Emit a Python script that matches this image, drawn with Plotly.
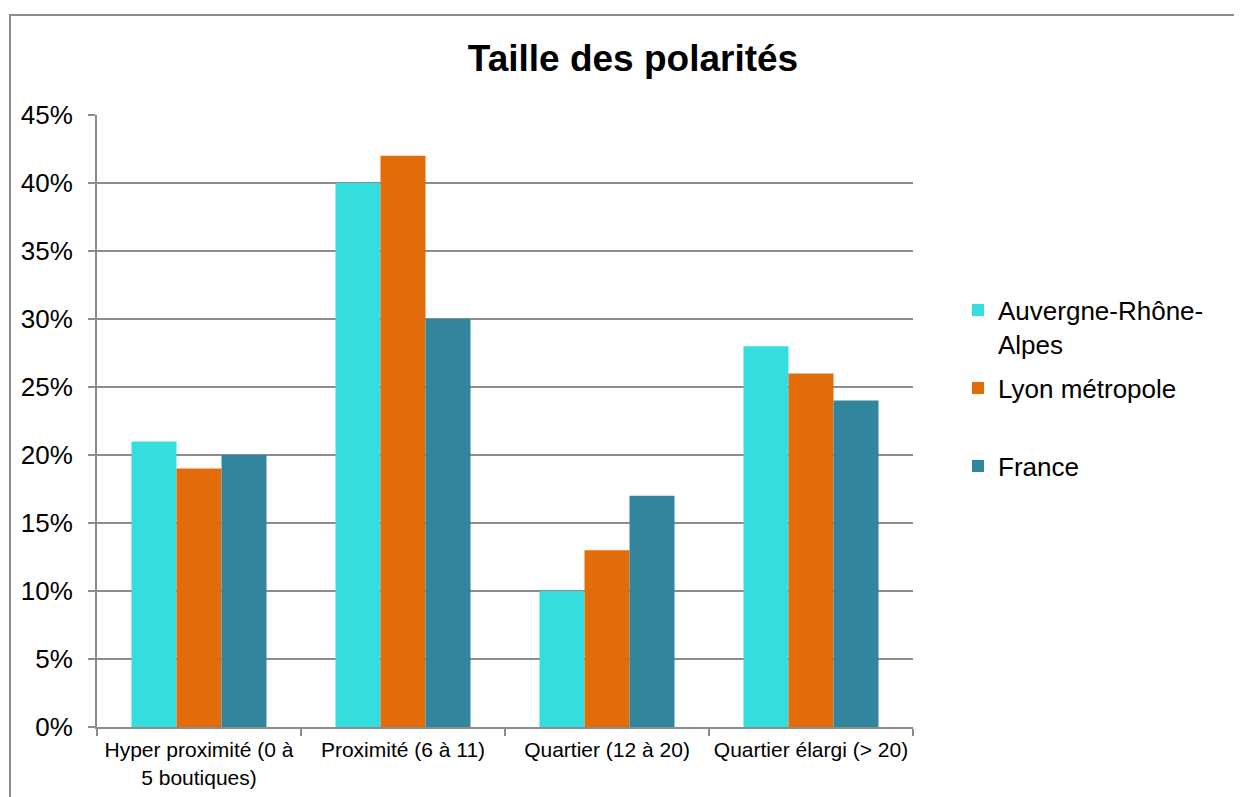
import plotly.graph_objects as go

categories = ["Hyper proximité (0 à<br>5 boutiques)", "Proximité (6 à 11)",
              "Quartier (12 à 20)", "Quartier élargi (> 20)"]
series_names = ["Auvergne-Rhône-<br>Alpes", "Lyon métropole", "France"]
auvergne = [0.21, 0.40, 0.10, 0.28]
lyon = [0.19, 0.42, 0.13, 0.26]
france = [0.20, 0.30, 0.17, 0.24]
colors = ["#35DEDE", "#E36C0A", "#31859C"]
y_ticks = [0, 0.05, 0.10, 0.15, 0.20, 0.25, 0.30, 0.35, 0.40, 0.45]

OFF = 8  # page body margin
W, H = 1242 - OFF, 797 - OFF
L, R, T, B = 97 - OFF, 913 - OFF, 115 - OFF, 727 - OFF


def cx(px):
    return (px - OFF) / W


def cy(px):
    return 1 - (px - OFF) / H


fig = go.Figure()
legend_names = ["legend", "legend2", "legend3"]
for name, vals, col, lg in zip(series_names, [auvergne, lyon, france], colors, legend_names):
    fig.add_trace(go.Bar(x=categories, y=vals, name=name, marker=dict(color=col, line=dict(width=0)),
                         legend=lg))

font = "Liberation Sans, Arial, sans-serif"
leg_common = dict(xref="container", yref="container", x=cx(958), xanchor="left",
                  yanchor="middle", valign="top", bgcolor="rgba(0,0,0,0)",
                  font=dict(family=font, size=26, color="#000"), itemclick=False)

fig.update_layout(
    width=W, height=H,
    margin=dict(l=L, r=W - R, t=T, b=H - B, pad=0, autoexpand=False),
    paper_bgcolor="white", plot_bgcolor="white",
    barmode="group", bargap=0.338, bargroupgap=0,
    showlegend=True,
    title=dict(text="<b>Taille des polarités</b>", x=cx(633), xanchor="center",
               y=cy(58), yanchor="middle", xref="container", yref="container",
               font=dict(family=font, size=37, color="#000")),
    legend=dict(**leg_common, y=cy(327)),
    legend2=dict(**leg_common, y=cy(388)),
    legend3=dict(**leg_common, y=cy(466)),
    xaxis=dict(type="category", tickson="boundaries", ticks="outside", ticklen=7,
               tickcolor="#8c8c8c", tickwidth=1.5, showline=True, linecolor="#8c8c8c",
               linewidth=2, showgrid=False, ticklabelstandoff=3, automargin=False,
               tickfont=dict(family=font, size=21, color="#000")),
    yaxis=dict(range=[0, 0.45], tickvals=y_ticks, tickformat=".0%", ticks="outside",
               ticklen=7, tickcolor="#8c8c8c", tickwidth=1.5, showline=True,
               linecolor="#8c8c8c", linewidth=2, showgrid=True, gridcolor="#8c8c8c",
               gridwidth=1.5, zeroline=False, ticklabelstandoff=10, automargin=False,
               tickfont=dict(family=font, size=26, color="#000")),
    shapes=[dict(type="rect", xref="paper", yref="paper",
                 x0=(10 - 97) / (913 - 97), x1=1.6, y0=-0.5, y1=(727 - 15) / (727 - 115),
                 line=dict(color="#8c8c8c", width=2), fillcolor="rgba(0,0,0,0)", layer="below")],
)

fig.write_html("out.html")
